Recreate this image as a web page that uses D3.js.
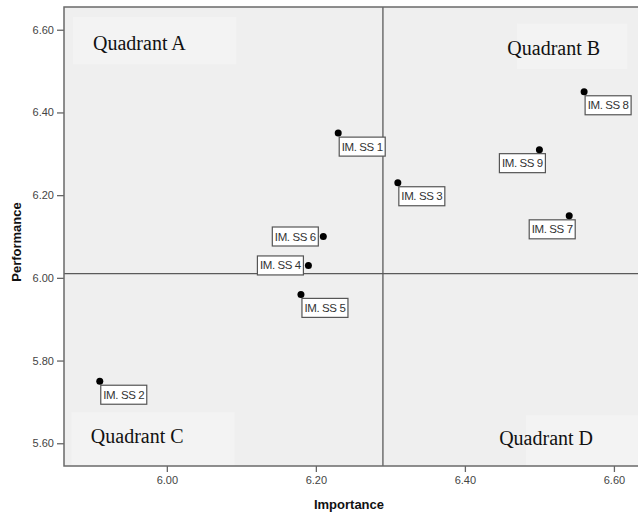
<!DOCTYPE html>
<html>
<head>
<meta charset="utf-8">
<script src="https://cdn.jsdelivr.net/npm/d3@7"></script>
<style>
  html, body { margin: 0; padding: 0; background: #fff; }
  svg { display: block; }
</style>
</head>
<body>
<svg id="chart" width="638" height="516"></svg>
<script>
// ---- data ----
const labels      = ["IM. SS 1","IM. SS 2","IM. SS 3","IM. SS 4","IM. SS 5","IM. SS 6","IM. SS 7","IM. SS 8","IM. SS 9"];
const importance  = [6.23, 5.91, 6.31, 6.19, 6.18, 6.21, 6.54, 6.56, 6.50];
const performance = [6.35, 5.75, 6.23, 6.03, 5.96, 6.10, 6.15, 6.45, 6.31];
const xTicks = [6.00, 6.20, 6.40, 6.60];
const yTicks = [5.60, 5.80, 6.00, 6.20, 6.40, 6.60];
const refImportance = 6.29;
const refPerformance = 6.01;
const quadrants = ["Quadrant A", "Quadrant B", "Quadrant C", "Quadrant D"];

// label placement relative to point (style, not data)
const placement = {"IM. SS 4":"left","IM. SS 6":"left","IM. SS 7":"belowLeft","IM. SS 9":"belowLeft"};

const svg = d3.select("#chart");
const L = 64, T = 7, R = 640, B = 466;

const x = d3.scaleLinear().domain([5.862, 6.635]).range([L, R]);
const y = d3.scaleLinear().domain([5.545, 6.655]).range([B, T]);

// plot background
svg.append("rect").attr("x", L).attr("y", T).attr("width", R - L).attr("height", B - T)
  .attr("fill", "#efefef");

// light boxes behind quadrant labels
const qBoxes = [
  {x0: 5.874, x1: 6.093, y0: 6.517, y1: 6.631},
  {x0: 6.470, x1: 6.618, y0: 6.505, y1: 6.615},
  {x0: 5.872, x1: 6.091, y0: 5.545, y1: 5.675},
  {x0: 6.482, x1: 6.635, y0: 5.545, y1: 5.668}
];
svg.append("g").selectAll("rect").data(qBoxes).join("rect")
  .attr("x", d => x(d.x0)).attr("y", d => y(d.y1))
  .attr("width", d => x(d.x1) - x(d.x0)).attr("height", d => y(d.y0) - y(d.y1))
  .attr("fill", "#f3f3f3");

// quadrant labels
const qPos = [
  {x: 5.901, y: 6.552}, {x: 6.457, y: 6.540},
  {x: 5.898, y: 5.600}, {x: 6.446, y: 5.595}
];
svg.append("g").selectAll("text").data(quadrants).join("text")
  .attr("x", (d, i) => x(qPos[i].x)).attr("y", (d, i) => y(qPos[i].y))
  .attr("font-family", "'Liberation Serif', 'Times New Roman', serif")
  .attr("font-size", 20).attr("fill", "#111")
  .text(d => d);

// reference lines
svg.append("line").attr("x1", x(refImportance)).attr("x2", x(refImportance))
  .attr("y1", T).attr("y2", B).attr("stroke", "#5a5a5a").attr("stroke-width", 1.3);
svg.append("line").attr("x1", L).attr("x2", R)
  .attr("y1", y(refPerformance)).attr("y2", y(refPerformance))
  .attr("stroke", "#5a5a5a").attr("stroke-width", 1.3);

// axes
const fmt = d3.format(".2f");
const yAxis = svg.append("g").attr("transform", `translate(${L},0)`)
  .call(d3.axisLeft(y).tickValues(yTicks).tickFormat(fmt).tickSize(7).tickPadding(3));
const xAxis = svg.append("g").attr("transform", `translate(0,${B})`)
  .call(d3.axisBottom(x).tickValues(xTicks).tickFormat(fmt).tickSize(6).tickPadding(4));
[xAxis, yAxis].forEach(g => {
  g.select(".domain").remove();
  g.selectAll("line").attr("stroke", "#666").attr("stroke-width", 1.3);
  g.selectAll("text").attr("font-family", "Arial, 'Liberation Sans', sans-serif")
    .attr("font-size", 11).attr("fill", "#444");
});

// frame
svg.append("rect").attr("x", L).attr("y", T).attr("width", R - L).attr("height", B - T)
  .attr("fill", "none").attr("stroke", "#6a6a6a").attr("stroke-width", 1.5);

// axis titles
svg.append("text").attr("x", 349).attr("y", 509).attr("text-anchor", "middle")
  .attr("font-family", "Arial, 'Liberation Sans', sans-serif").attr("font-weight", "bold")
  .attr("font-size", 13).attr("fill", "#111").text("Importance");
svg.append("text").attr("transform", "translate(21,242) rotate(-90)").attr("text-anchor", "middle")
  .attr("font-family", "Arial, 'Liberation Sans', sans-serif").attr("font-weight", "bold")
  .attr("font-size", 13).attr("fill", "#111").text("Performance");

// points + labels
const pts = labels.map((l, i) => ({label: l, x: importance[i], y: performance[i]}));
const bw = 46, bh = 19;
const g = svg.append("g");
pts.forEach(d => {
  const px = x(d.x), py = y(d.y);
  const mode = placement[d.label] || "belowRight";
  let bx, by;
  if (mode === "left") { bx = px - 5 - bw; by = py - bh / 2; }
  else if (mode === "belowLeft") { bx = px + 6 - bw; by = py + 4; }
  else { bx = px + 1; by = py + 4; }
  g.append("rect").attr("x", bx).attr("y", by).attr("width", bw).attr("height", bh)
    .attr("fill", "#fff").attr("stroke", "#555").attr("stroke-width", 1.2);
  g.append("text").attr("x", bx + bw / 2).attr("y", by + bh / 2 + 4).attr("text-anchor", "middle")
    .attr("font-family", "Arial, 'Liberation Sans', sans-serif").attr("font-size", 11.5)
    .attr("letter-spacing", "-0.4").attr("fill", "#333").text(d.label);
});
g.selectAll("circle").data(pts).join("circle")
  .attr("cx", d => x(d.x)).attr("cy", d => y(d.y)).attr("r", 3.5).attr("fill", "#000");
</script>
</body>
</html>
